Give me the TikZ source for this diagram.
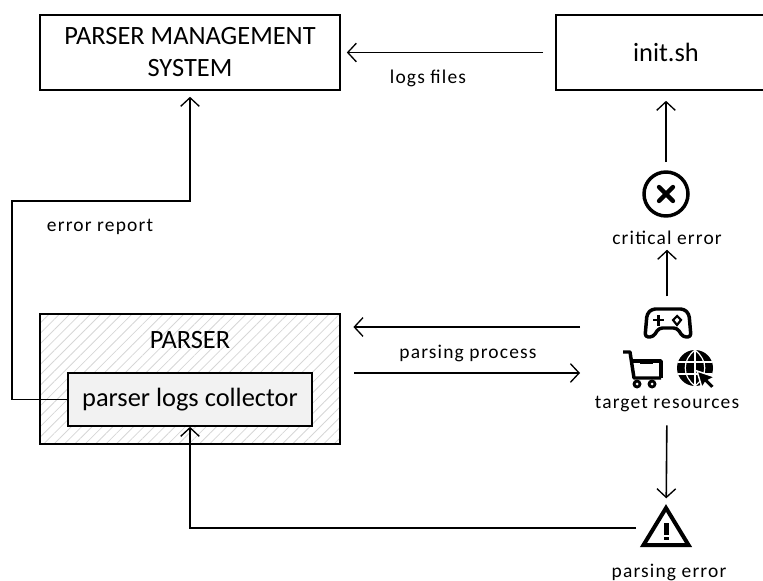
\documentclass[tikz,border=0pt]{standalone}
\usepackage{fontspec}
\setmainfont{Carlito}
\definecolor{hatch01}{RGB}{214,214,214}
\definecolor{fill01}{RGB}{242,242,242}
\usetikzlibrary{calc,shapes,positioning,arrows.meta,patterns.meta}

\begin{document}
\begin{tikzpicture}[x=.75pt,y=-.75pt,
        boxnode/.style={draw,line width=1.2pt,inner sep=0,align=center,font=\fontsize{19.8}{24}\selectfont},
        labelnode/.style={inner sep=0,font=\fontsize{14.6}{18}\selectfont\addfontfeatures{LetterSpace=6}},
        iconnode/.style={inner sep=0,outer sep=0},
        iconline/.style={line width=2.6pt,line join=round},
        conn/.style={line width=1.2pt,-{Straight Barb[length=6.5pt,width=14pt,line width=1pt]}}]
        \useasboundingbox (0,0) rectangle (763,581);
        \node[boxnode,minimum width=225pt,minimum height=56.25pt] (pms) at (190,52.5) {PARSER MANAGEMENT\\SYSTEM};
        \node[boxnode,minimum width=165pt,minimum height=56.25pt] (initsh) at (666,52.5) {init.sh};
        \node[boxnode,minimum width=225pt,minimum height=97.5pt,pattern={Lines[angle=45,distance=5.5pt,line width=.6pt]},pattern color=hatch01] (parser) at (190,379) {};
        \node[inner sep=0,font=\fontsize{19.8}{24}\selectfont] (parsertext) at (190,340) {PARSER};
        \node[boxnode,fill=fill01,minimum width=183pt,minimum height=39.75pt] (collector) at (190,399.5) {parser logs collector};
        \node[iconnode,draw,circle,line width=2.6pt,minimum size=33pt] (crossicon) at (666,194) {};
        \node[iconnode,minimum width=34.5pt,minimum height=22.5pt] (gamepad) at (669,322) {};
        \node[iconnode,minimum width=30pt,minimum height=27pt] (cart) at (642,369) {};
        \node[iconnode,circle,minimum size=27pt] (globe) at (695,368) {};
        \node[iconnode,minimum width=45pt,minimum height=34.5pt] (warnicon) at (666,528) {};
        \node[labelnode] (logstext) at (428,78) {logs files};
        \node[labelnode] (reporttext) at (100,227) {error report};
        \node[labelnode] (criticaltext) at (667,238) {critical error};
        \node[labelnode] (processtext) at (468,353) {parsing process};
        \node[labelnode] (targettext) at (667,404) {target resources};
        \node[labelnode] (errortext) at (669,572) {parsing error};
        \coordinate (reportbend) at (12,201);
        \coordinate (returnend) at (580,327);
        \coordinate (sendend) at (580,373);
        \draw[conn,shorten <=9pt,shorten >=4.5pt] (initsh) -- (pms);
        \draw[conn,shorten >=4.5pt] (collector) -| (reportbend) -| (pms);
        \draw[conn,shorten <=7.5pt,shorten >=7.5pt] (crossicon) -- (initsh);
        \draw[conn,shorten <=8pt,shorten >=3.5pt] (gamepad.north -| criticaltext) -- (criticaltext);
        \draw[conn,shorten >=9.75pt] (returnend) -- (returnend -| parser.east);
        \draw[conn,shorten <=10.5pt] (sendend -| parser.east) -- (sendend);
        \draw[conn,shorten <=10pt,shorten >=5pt] (targettext) -- (warnicon);
        \draw[conn] (warnicon.west) -| (collector);
        \draw[line width=3.2pt,line cap=round] ($(crossicon)+(-7,-7)$) -- ($(crossicon)+(7,7)$);
        \draw[line width=3.2pt,line cap=round] ($(crossicon)+(-7,7)$) -- ($(crossicon)+(7,-7)$);
        \begin{scope}[shift={(gamepad)}]
                \draw[iconline,rounded corners=2.5pt] (-17,-13) -- (15,-13) -- (20,-8) -- (22,15) -- (14,15) -- (8,6) -- (-10,6) -- (-16,15) -- (-24,15) -- (-22,-8) -- cycle;
                \draw[line width=2.2pt] (-16,-2) -- (-5,-2);
                \draw[line width=2.2pt] (-10.5,-7) -- (-10.5,4);
                \draw[line width=1.6pt] (8,-6) -- (12,-2) -- (8,3) -- (4,-2) -- cycle;
        \end{scope}
        \begin{scope}[shift={(cart)}]
                \draw[iconline,miter limit=4] (-19,-17) -- (-12,-17) -- (-8,9) -- (19,9);
                \draw[iconline] (-10,-8) -- (19,-8) -- (19,9);
                \draw[line width=2.2pt] (-2,-6) -- (11,-6);
                \fill (-5,15) circle[radius=4.5];
                \fill (10,15) circle[radius=4.5];
                \fill[white] (-5,15) circle[radius=1.5];
                \fill[white] (10,15) circle[radius=1.5];
        \end{scope}
        \begin{scope}[shift={(globe)}]
                \fill (0,0) circle[radius=18];
                \draw[white,line width=.9pt] (-17,-6) -- (17,-6);
                \draw[white,line width=.9pt] (-17,6) -- (17,6);
                \draw[white,line width=.9pt] (0,-18) -- (0,18);
                \draw[white,line width=.9pt] (0,-18) .. controls (-13,-8) and (-13,8) .. (0,18);
                \draw[white,line width=.9pt] (0,-18) .. controls (13,-8) and (13,8) .. (0,18);
                \draw[white,fill=black,line width=1.1pt,line join=miter] (2,3) -- (20,9) -- (14,12) -- (20,18) -- (16,21) -- (10,15) -- (7,20) -- cycle;
        \end{scope}
        \begin{scope}[shift={(warnicon)}]
                \draw[line width=3pt,line join=miter] (0,-20) -- (22.5,17) -- (-22.5,17) -- cycle;
                \fill (-2.5,-5) rectangle (2.5,7);
                \fill (-2.5,9) rectangle (2.5,12);
        \end{scope}
\end{tikzpicture}
\end{document}
